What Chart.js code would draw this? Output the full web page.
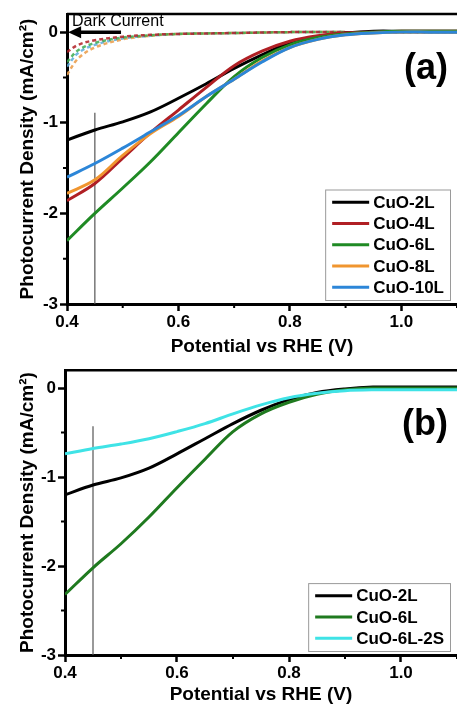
<!DOCTYPE html>
<html>
<head>
<meta charset="utf-8">
<title>CuO photocurrent</title>
<script src="https://cdn.jsdelivr.net/npm/chart.js@4.4.0/dist/chart.umd.min.js"></script>
<style>
  html, body { margin: 0; padding: 0; background: #fff; }
  canvas { display: block; }
</style>
</head>
<body>
<canvas id="chartA" width="457" height="358"></canvas>
<canvas id="chartB" width="457" height="346"></canvas>
<script>
// potential sweep, V vs RHE
const potential = [0.40, 0.45, 0.50, 0.55, 0.60, 0.65, 0.70, 0.75, 0.80, 0.85, 0.90, 0.95, 1.00, 1.05, 1.10];

// (a) photocurrent under light, mA/cm2
const cuo2L  = [-1.19, -1.08, -0.99, -0.88, -0.73, -0.57, -0.40, -0.25, -0.12, -0.05, -0.01, 0.01, 0.01, 0.01, 0.01];
const cuo4L  = [-1.86, -1.67, -1.39, -1.11, -0.86, -0.61, -0.37, -0.21, -0.10, -0.04, -0.01, 0.00, 0.01, 0.01, 0.01];
const cuo6L  = [-2.30, -2.00, -1.72, -1.43, -1.11, -0.79, -0.49, -0.28, -0.14, -0.06, -0.02, 0.00, 0.01, 0.01, 0.01];
const cuo8L  = [-1.78, -1.63, -1.36, -1.12, -0.93, -0.71, -0.52, -0.32, -0.17, -0.08, -0.03, -0.01, 0.00, 0.00, 0.00];
const cuo10L = [-1.60, -1.45, -1.28, -1.10, -0.92, -0.71, -0.52, -0.33, -0.17, -0.08, -0.03, -0.01, 0.00, 0.00, 0.00];

// (a) dark current
const darkPotential = [0.40, 0.42, 0.45, 0.50, 0.55, 0.60, 0.70, 0.80, 0.90, 1.00, 1.10];
const dark4L  = [-0.22, -0.14, -0.09, -0.05, -0.03, -0.02, -0.01, 0, 0, 0, 0];
const dark6L  = [-0.33, -0.20, -0.12, -0.06, -0.035, -0.02, -0.01, 0, 0, 0, 0];
const dark8L  = [-0.47, -0.29, -0.17, -0.08, -0.04, -0.02, -0.01, 0, 0, 0, 0];
const dark10L = [-0.38, -0.23, -0.14, -0.07, -0.04, -0.02, -0.01, 0, 0, 0, 0];

// (b) photocurrent, mA/cm2
const cuo2Lb  = [-1.20, -1.09, -1.01, -0.90, -0.74, -0.57, -0.40, -0.25, -0.13, -0.05, -0.01, 0.01, 0.01, 0.01, 0.01];
const cuo6Lb  = [-2.32, -2.02, -1.75, -1.45, -1.12, -0.80, -0.49, -0.29, -0.16, -0.07, -0.02, 0.00, 0.00, 0.00, 0.00];
const cuo6L2S = [-0.74, -0.68, -0.63, -0.57, -0.49, -0.40, -0.29, -0.19, -0.11, -0.06, -0.03, -0.02, -0.02, -0.02, -0.02];

// marker at 0.45 V
const markerPotential = [0.45, 0.45];
const markerA = [-3, -0.89];
const markerB = [-3, -0.43];

const xMajorTicks = [0.4, 0.6, 0.8, 1.0];
const xMinorTicks = [0.5, 0.7, 0.9, 1.1];
const yMajorTicks = [-3, -2, -1, 0];
const yMinorTicks = [-2.5, -1.5, -0.5];

const FONT = "'Liberation Sans', Arial, sans-serif";

function pts(xs, ys) {
    return xs.map((x, i) => ({ x: x, y: ys[i] }));
}

function curve(label, color, ys, i) {
    return { label: label, data: pts(potential, ys), borderColor: color, borderWidth: 3, order: -i };
}

function dark(color, ys) {
    return { data: pts(darkPotential, ys), borderColor: color, borderWidth: 2.5, borderDash: [4, 3], order: 20 };
}

function marker(ys) {
    return {
        data: pts(markerPotential, ys), borderColor: '#555', borderWidth: 1.2,
        tension: 0, order: 30
    };
}

// axis box top edge and short minor ticks
const frame = {
    id: 'frame',
    afterDraw(chart) {
        const ctx = chart.ctx;
        const a = chart.chartArea;
        const xs = chart.scales.x, ys = chart.scales.y;
        ctx.save();
        ctx.strokeStyle = '#000';
        ctx.lineWidth = 2.5;
        ctx.beginPath();
        ctx.moveTo(a.left, a.top);
        ctx.lineTo(a.right, a.top);
        ctx.stroke();
        ctx.lineWidth = 2;
        ctx.beginPath();
        xMinorTicks.forEach(v => {
            const px = xs.getPixelForValue(v);
            ctx.moveTo(px, a.bottom);
            ctx.lineTo(px, a.bottom + 4);
        });
        yMinorTicks.forEach(v => {
            const py = ys.getPixelForValue(v);
            ctx.moveTo(a.left - 4, py);
            ctx.lineTo(a.left, py);
        });
        ctx.stroke();
        ctx.restore();
    }
};

// boxed legend in the lower right corner of the plot
const legendBox = {
    id: 'legendBox',
    afterDraw(chart) {
        const ctx = chart.ctx;
        const a = chart.chartArea;
        const items = chart.data.datasets.filter(d => d.label);
        const rowH = 21.3, lineLen = 37, padL = 7, gap = 4, padR = 6, padY = 2;
        ctx.save();
        ctx.font = 'bold 17px ' + FONT;
        const textW = Math.max(...items.map(d => ctx.measureText(d.label).width));
        const w = padL + lineLen + gap + textW + padR;
        const h = items.length * rowH + padY * 2;
        const right = a.right - 7, bottom = a.bottom - 4;
        const left = right - w, top = bottom - h;
        ctx.fillStyle = '#fff';
        ctx.fillRect(left, top, w, h);
        ctx.strokeStyle = '#9a9a9a';
        ctx.lineWidth = 1;
        ctx.strokeRect(left + 0.5, top + 0.5, w, h);
        ctx.textBaseline = 'middle';
        items.forEach((d, i) => {
            const cy = top + padY + rowH * i + rowH / 2;
            ctx.strokeStyle = d.borderColor;
            ctx.lineWidth = 3;
            ctx.beginPath();
            ctx.moveTo(left + padL, cy);
            ctx.lineTo(left + padL + lineLen, cy);
            ctx.stroke();
            ctx.fillStyle = '#000';
            ctx.fillText(d.label, left + padL + lineLen + gap, cy + 1);
        });
        ctx.restore();
    }
};

// panel letter and the dark current arrow
const notes = {
    id: 'notes',
    afterDraw(chart, args, opts) {
        const ctx = chart.ctx;
        const a = chart.chartArea;
        ctx.save();
        ctx.fillStyle = '#000';
        ctx.font = 'bold 36px ' + FONT;
        ctx.textAlign = 'right';
        ctx.textBaseline = 'middle';
        ctx.fillText(opts.tag, a.right - 9, a.top + 55);
        if (opts.darkArrow) {
            const xs = chart.scales.x, ys = chart.scales.y;
            const y0 = ys.getPixelForValue(0);
            const tip = xs.getPixelForValue(0.402);
            const tail = xs.getPixelForValue(0.497);
            ctx.strokeStyle = '#000';
            ctx.lineWidth = 3.5;
            ctx.beginPath();
            ctx.moveTo(tail, y0);
            ctx.lineTo(tip + 10, y0);
            ctx.stroke();
            ctx.beginPath();
            ctx.moveTo(tip, y0);
            ctx.lineTo(tip + 13, y0 - 6);
            ctx.lineTo(tip + 13, y0 + 6);
            ctx.closePath();
            ctx.fill();
            ctx.font = '16px ' + FONT;
            ctx.textAlign = 'left';
            ctx.fillText('Dark Current', a.left + 5, a.top + 8);
        }
        ctx.restore();
    }
};

function makeOptions(yWidth, xHeight, padTop, xTitlePad, tag, darkArrow) {
    return {
        responsive: false,
        animation: false,
        devicePixelRatio: 1,
        layout: { padding: { top: padTop, left: 0, right: 0, bottom: 0 } },
        elements: {
            point: { radius: 0 },
            line: { tension: 0.35, fill: false }
        },
        plugins: {
            legend: { display: false },
            tooltip: { enabled: false },
            notes: { tag: tag, darkArrow: darkArrow }
        },
        scales: {
            x: {
                type: 'linear',
                min: 0.4,
                max: 1.1,
                afterBuildTicks: s => { s.ticks = xMajorTicks.map(v => ({ value: v })); },
                afterFit: s => { s.height = xHeight; },
                ticks: {
                    color: '#000',
                    padding: 1,
                    font: { family: FONT, size: 17, weight: 'bold' },
                    callback: v => v.toFixed(1)
                },
                grid: { drawOnChartArea: false, tickLength: 7, tickWidth: 2.5, tickColor: '#000' },
                border: { color: '#000', width: 3 },
                title: {
                    display: true,
                    text: 'Potential vs RHE (V)',
                    color: '#000',
                    font: { family: FONT, size: 19, weight: 'bold', lineHeight: 1 },
                    padding: { top: 0, bottom: xTitlePad }
                }
            },
            y: {
                type: 'linear',
                min: -3,
                max: 0.2,
                afterBuildTicks: s => { s.ticks = yMajorTicks.map(v => ({ value: v })); },
                afterFit: s => { s.width = yWidth; },
                ticks: {
                    color: '#000',
                    padding: 2,
                    font: { family: FONT, size: 17, weight: 'bold' },
                    callback: v => String(v)
                },
                grid: { drawOnChartArea: false, tickLength: 7, tickWidth: 2.5, tickColor: '#000' },
                border: { color: '#000', width: 3 },
                title: {
                    display: true,
                    text: 'Photocurrent Density (mA/cm\u00B2)',
                    color: '#000',
                    font: { family: FONT, size: 19, weight: 'bold' },
                    padding: { top: 16, bottom: 0 }
                }
            }
        }
    };
}

new Chart(document.getElementById('chartA'), {
    type: 'line',
    data: {
        datasets: [
            curve('CuO-2L', '#000000', cuo2L, 0),
            curve('CuO-4L', '#b01f24', cuo4L, 1),
            curve('CuO-6L', '#1f8a24', cuo6L, 2),
            curve('CuO-8L', '#f0952f', cuo8L, 3),
            curve('CuO-10L', '#2c86d8', cuo10L, 4),
            dark('rgba(176,31,36,0.85)', dark4L),
            dark('rgba(60,170,80,0.85)', dark6L),
            dark('rgba(235,160,80,0.9)', dark8L),
            dark('rgba(90,170,220,0.85)', dark10L),
            marker(markerA)
        ]
    },
    options: makeOptions(67, 54, 14, 2, '(a)', true),
    plugins: [frame, legendBox, notes]
});

new Chart(document.getElementById('chartB'), {
    type: 'line',
    data: {
        datasets: [
            curve('CuO-2L', '#000000', cuo2Lb, 0),
            curve('CuO-6L', '#1f7a1f', cuo6Lb, 1),
            curve('CuO-6L-2S', '#3fe3e6', cuo6L2S, 2),
            marker(markerB)
        ]
    },
    options: makeOptions(65, 49, 5, 0, '(b)', false),
    plugins: [frame, legendBox, notes]
});
</script>
</body>
</html>
